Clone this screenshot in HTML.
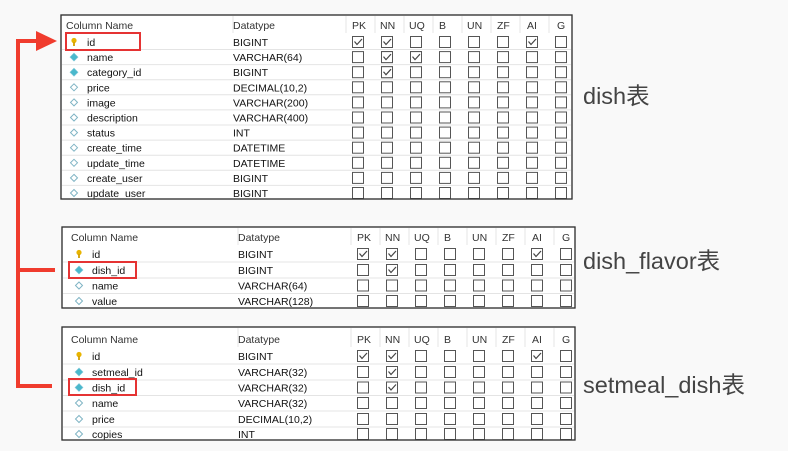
<!DOCTYPE html>
<html><head><meta charset="utf-8"><style>
html,body{margin:0;padding:0;background:#f9f9f9;width:788px;height:451px;overflow:hidden}
svg{display:block}
text{font-family:"Liberation Sans","Noto Sans CJK SC",sans-serif;font-size:10.5px;fill:#111}
.h{fill:#333}
.lbl{font-size:23.5px;fill:#444}
</style></head><body>
<svg width="788" height="451" viewBox="0 0 788 451" xmlns="http://www.w3.org/2000/svg">
<defs>
<g id="b"><rect x="-5.5" y="-5.5" width="11" height="11" fill="#fff" stroke="#555" stroke-width="1"/></g>
<g id="c"><rect x="-5.5" y="-5.5" width="11" height="11" fill="#fff" stroke="#555" stroke-width="1"/><polyline points="-3.5,-0.5 -1,2.5 4,-3" fill="none" stroke="#444" stroke-width="1.2"/></g>
<g id="row8"><use href="#b" x="297"/><use href="#b" x="326"/><use href="#b" x="355"/><use href="#b" x="384"/><use href="#b" x="413"/><use href="#b" x="442"/><use href="#b" x="471"/><use href="#b" x="500"/></g>
<g id="k"><circle cx="0" cy="-1.5" r="2.6" fill="#e8b400"/><rect x="-0.9" y="0" width="1.8" height="4" fill="#d4a000"/></g>
<g id="df"><polygon points="0,-4 4,0 0,4 -4,0" fill="#4ab8cc" stroke="#7fc8d8" stroke-width="0.6"/></g>
<g id="dh"><polygon points="0,-3.5 3.5,0 0,3.5 -3.5,0" fill="#fff" stroke="#7fb4c4" stroke-width="1"/></g>
<g id="hdr">
<text x="5" y="4" class="h">Column Name</text><text x="172" y="4" class="h">Datatype</text>
<text x="291" y="4" class="h">PK</text><text x="319" y="4" class="h">NN</text><text x="348" y="4" class="h">UQ</text><text x="378" y="4" class="h">B</text><text x="406" y="4" class="h">UN</text><text x="436" y="4" class="h">ZF</text><text x="466" y="4" class="h">AI</text><text x="496" y="4" class="h">G</text>
</g>
</defs>

<g transform="translate(61,15)">
<rect x="0" y="0" width="511" height="184" fill="#fff" stroke="#333" stroke-width="1.2"/>
<g stroke="#e4e4e4" stroke-width="1"><line x1="172" y1="1" x2="172" y2="18"/><line x1="285" y1="1" x2="285" y2="18"/><line x1="314" y1="1" x2="314" y2="18"/><line x1="343" y1="1" x2="343" y2="18"/><line x1="372" y1="1" x2="372" y2="18"/><line x1="401" y1="1" x2="401" y2="18"/><line x1="430" y1="1" x2="430" y2="18"/><line x1="459" y1="1" x2="459" y2="18"/><line x1="488" y1="1" x2="488" y2="18"/>
<line x1="1" y1="34.5" x2="510" y2="34.5"/><line x1="1" y1="49.6" x2="510" y2="49.6"/><line x1="1" y1="64.7" x2="510" y2="64.7"/><line x1="1" y1="79.8" x2="510" y2="79.8"/><line x1="1" y1="94.9" x2="510" y2="94.9"/><line x1="1" y1="110" x2="510" y2="110"/><line x1="1" y1="125.1" x2="510" y2="125.1"/><line x1="1" y1="140.2" x2="510" y2="140.2"/><line x1="1" y1="155.3" x2="510" y2="155.3"/><line x1="1" y1="170.4" x2="510" y2="170.4"/></g>
<use href="#hdr" y="10"/>
<g transform="translate(0,27)"><use href="#row8"/><use href="#c" x="297"/><use href="#c" x="326"/><use href="#c" x="471"/><use href="#k" x="13"/><text x="26" y="4">id</text><text x="172" y="4">BIGINT</text></g>
<g transform="translate(0,42.1)"><use href="#row8"/><use href="#c" x="326"/><use href="#c" x="355"/><use href="#df" x="13"/><text x="26" y="4">name</text><text x="172" y="4">VARCHAR(64)</text></g>
<g transform="translate(0,57.2)"><use href="#row8"/><use href="#c" x="326"/><use href="#df" x="13"/><text x="26" y="4">category_id</text><text x="172" y="4">BIGINT</text></g>
<g transform="translate(0,72.3)"><use href="#row8"/><use href="#dh" x="13"/><text x="26" y="4">price</text><text x="172" y="4">DECIMAL(10,2)</text></g>
<g transform="translate(0,87.4)"><use href="#row8"/><use href="#dh" x="13"/><text x="26" y="4">image</text><text x="172" y="4">VARCHAR(200)</text></g>
<g transform="translate(0,102.5)"><use href="#row8"/><use href="#dh" x="13"/><text x="26" y="4">description</text><text x="172" y="4">VARCHAR(400)</text></g>
<g transform="translate(0,117.6)"><use href="#row8"/><use href="#dh" x="13"/><text x="26" y="4">status</text><text x="172" y="4">INT</text></g>
<g transform="translate(0,132.7)"><use href="#row8"/><use href="#dh" x="13"/><text x="26" y="4">create_time</text><text x="172" y="4">DATETIME</text></g>
<g transform="translate(0,147.8)"><use href="#row8"/><use href="#dh" x="13"/><text x="26" y="4">update_time</text><text x="172" y="4">DATETIME</text></g>
<g transform="translate(0,162.9)"><use href="#row8"/><use href="#dh" x="13"/><text x="26" y="4">create_user</text><text x="172" y="4">BIGINT</text></g>
<g transform="translate(0,178)"><use href="#row8"/><use href="#dh" x="13"/><text x="26" y="4">update_user</text><text x="172" y="4">BIGINT</text></g>
<rect x="0" y="0" width="511" height="184" fill="none" stroke="#333" stroke-width="1.2"/>
</g>

<g transform="translate(62,227)">
<rect x="0" y="0" width="513" height="81" fill="#fff" stroke="#333" stroke-width="1.2"/>
<g stroke="#e4e4e4"><line x1="176" y1="1" x2="176" y2="18"/><line x1="289" y1="1" x2="289" y2="18"/><line x1="318" y1="1" x2="318" y2="18"/><line x1="347" y1="1" x2="347" y2="18"/><line x1="376" y1="1" x2="376" y2="18"/><line x1="405" y1="1" x2="405" y2="18"/><line x1="434" y1="1" x2="434" y2="18"/><line x1="463" y1="1" x2="463" y2="18"/><line x1="492" y1="1" x2="492" y2="18"/>
<line x1="1" y1="35" x2="512" y2="35"/><line x1="1" y1="51" x2="512" y2="51"/><line x1="1" y1="66.5" x2="512" y2="66.5"/></g>
<g transform="translate(4,0)"><use href="#hdr" y="10"/>
<g transform="translate(0,27)"><use href="#row8"/><use href="#c" x="297"/><use href="#c" x="326"/><use href="#c" x="471"/><use href="#k" x="13"/><text x="26" y="4">id</text><text x="172" y="4">BIGINT</text></g>
<g transform="translate(0,43)"><use href="#row8"/><use href="#c" x="326"/><use href="#df" x="13"/><text x="26" y="4">dish_id</text><text x="172" y="4">BIGINT</text></g>
<g transform="translate(0,58.5)"><use href="#row8"/><use href="#dh" x="13"/><text x="26" y="4">name</text><text x="172" y="4">VARCHAR(64)</text></g>
<g transform="translate(0,74)"><use href="#row8"/><use href="#dh" x="13"/><text x="26" y="4">value</text><text x="172" y="4">VARCHAR(128)</text></g>
</g>
<rect x="0" y="0" width="513" height="81" fill="none" stroke="#333" stroke-width="1.2"/>
</g>

<g transform="translate(62,327)">
<rect x="0" y="0" width="513" height="113" fill="#fff" stroke="#333" stroke-width="1.2"/>
<g stroke="#e4e4e4"><line x1="176" y1="1" x2="176" y2="20"/><line x1="289" y1="1" x2="289" y2="20"/><line x1="318" y1="1" x2="318" y2="20"/><line x1="347" y1="1" x2="347" y2="20"/><line x1="376" y1="1" x2="376" y2="20"/><line x1="405" y1="1" x2="405" y2="20"/><line x1="434" y1="1" x2="434" y2="20"/><line x1="463" y1="1" x2="463" y2="20"/><line x1="492" y1="1" x2="492" y2="20"/>
<line x1="1" y1="37" x2="512" y2="37"/><line x1="1" y1="53" x2="512" y2="53"/><line x1="1" y1="68.5" x2="512" y2="68.5"/><line x1="1" y1="84" x2="512" y2="84"/><line x1="1" y1="100" x2="512" y2="100"/></g>
<g transform="translate(4,0)"><use href="#hdr" y="12"/>
<g transform="translate(0,29)"><use href="#row8"/><use href="#c" x="297"/><use href="#c" x="326"/><use href="#c" x="471"/><use href="#k" x="13"/><text x="26" y="4">id</text><text x="172" y="4">BIGINT</text></g>
<g transform="translate(0,45)"><use href="#row8"/><use href="#c" x="326"/><use href="#df" x="13"/><text x="26" y="4">setmeal_id</text><text x="172" y="4">VARCHAR(32)</text></g>
<g transform="translate(0,60.5)"><use href="#row8"/><use href="#c" x="326"/><use href="#df" x="13"/><text x="26" y="4">dish_id</text><text x="172" y="4">VARCHAR(32)</text></g>
<g transform="translate(0,76)"><use href="#row8"/><use href="#dh" x="13"/><text x="26" y="4">name</text><text x="172" y="4">VARCHAR(32)</text></g>
<g transform="translate(0,92)"><use href="#row8"/><use href="#dh" x="13"/><text x="26" y="4">price</text><text x="172" y="4">DECIMAL(10,2)</text></g>
<g transform="translate(0,107)"><use href="#row8"/><use href="#dh" x="13"/><text x="26" y="4">copies</text><text x="172" y="4">INT</text></g>
</g>
<rect x="0" y="0" width="513" height="113" fill="none" stroke="#333" stroke-width="1.2"/>
</g>

<g fill="none" stroke="#e53333" stroke-width="2">
<rect x="66" y="33" width="74" height="17"/>
<rect x="69" y="262" width="67" height="16"/>
<rect x="69" y="379" width="67" height="16"/>
</g>
<g stroke="#f03c2e" stroke-width="4" fill="none">
<polyline points="37,41 18,41 18,386 52,386"/>
<line x1="18" y1="270" x2="55" y2="270"/>
</g>
<polygon points="36,31 57,41 36,51" fill="#f03c2e"/>

<text x="583" y="104" class="lbl">dish表</text>
<text x="583" y="269" class="lbl">dish_flavor表</text>
<text x="583" y="393" class="lbl">setmeal_dish表</text>
</svg>
</body></html>
